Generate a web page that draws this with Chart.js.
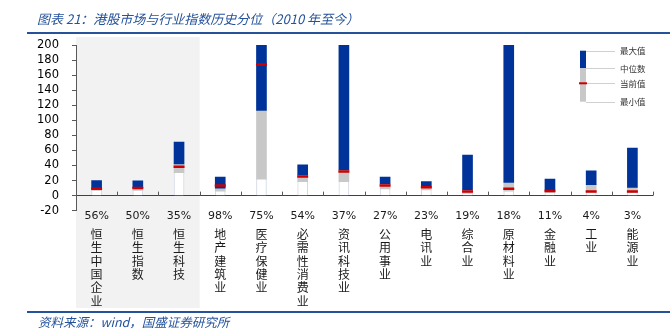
<!DOCTYPE html>
<html>
<head>
<meta charset="utf-8">
<script src="https://cdn.jsdelivr.net/npm/chart.js@4.4.1/dist/chart.umd.min.js"></script>
<style>
  html, body { margin:0; padding:0; background:#fff; }
  #wrap { position:relative; width:670px; height:333px; overflow:hidden; }
  #c { position:absolute; left:0; top:0; }
  .title { position:absolute; left:37px; top:9px; font: italic 13px "Noto Sans CJK SC", "DejaVu Sans", sans-serif; color:#24529b; white-space:nowrap; }
  .src { position:absolute; left:38px; top:312px; font: italic 12.5px "Noto Sans CJK SC", "DejaVu Sans", sans-serif; color:#24529b; white-space:nowrap; }
  .line1 { position:absolute; left:27px; top:32px; width:643px; height:2px; background:#24529b; }
  .line2 { position:absolute; left:27px; top:311px; width:643px; height:1.5px; background:#24529b; }
</style>
</head>
<body>
<div id="wrap">
  <canvas id="c" width="670" height="333"></canvas>
  <div class="title">图表 21：港股市场与行业指数历史分位（2010 年至今）</div>
  <div class="line1"></div>
  <div class="line2"></div>
  <div class="src">资料来源：wind，国盛证券研究所</div>
</div>
<script>
// ---- data ----
const categories = ['恒生中国企业','恒生指数','恒生科技','地产建筑业','医疗保健业','必需性消费业','资讯科技业','公用事业','电讯业','综合业','原材料业','金融业','工业','能源业'];
const percentiles = ['56%','50%','35%','98%','75%','54%','37%','27%','23%','19%','18%','11%','4%','3%'];
const maxValues     = [20, 19.5, 71, 24.5, 200, 41, 200, 24.5, 18.5, 54, 200, 22, 33, 63];
const medianValues  = [10, 10.5, 42, 10, 113, 27.5, 34, 15.5, 12.5, 7.5, 17.5, 7.5, 14.5, 11];
const currentValues = [9, 10, 38.5, 13.3, 174, 25.5, 32, 13.5, 11, 5.5, 9, 6, 5.5, 5.5];
const minValues     = [7, 7, 30.5, 6, 22, 18.5, 18.5, 9, 7.5, 3, 6, 4, 4.5, 4];
const yMin = -20, yMax = 200, yStep = 20;
const legendLabels = ['最大值','中位数','当前值','最小值'];
const highlightCount = 3;

const BLUE = '#003399', GRAY = '#c8c8c8', RED = '#cc0000';

const decorPlugin = {
  id: 'decor',
  beforeDraw(chart) {
    const ctx = chart.ctx, xs = chart.scales.x, ca = chart.chartArea;
    const half = (xs.getPixelForValue(1) - xs.getPixelForValue(0)) / 2;
    const right = xs.getPixelForValue(highlightCount - 1) + half;
    ctx.save();
    ctx.fillStyle = '#f2f2f2';
    ctx.fillRect(ca.left, 37, right - ca.left, 271);
    ctx.restore();
  },
  afterDraw(chart) {
    const ctx = chart.ctx, xs = chart.scales.x, ys = chart.scales.y, ca = chart.chartArea;
    ctx.save();
    // small tick marks on zero line between categories
    const half = (xs.getPixelForValue(1) - xs.getPixelForValue(0)) / 2;
    const y0 = ys.getPixelForValue(0);
    ctx.strokeStyle = '#595959'; ctx.lineWidth = 1;
    for (let i = 0; i < categories.length; i++) {
      const x = Math.round(xs.getPixelForValue(i) + half) + 0.5;
      ctx.beginPath(); ctx.moveTo(x, y0); ctx.lineTo(x, y0 - 4); ctx.stroke();
    }
    // vertical Chinese category labels
    ctx.fillStyle = '#1a1a1a';
    ctx.font = '12px "Noto Sans CJK SC", sans-serif';
    ctx.textAlign = 'center'; ctx.textBaseline = 'middle';
    categories.forEach((name, i) => {
      const x = xs.getPixelForValue(i);
      [...name].forEach((ch, k) => ctx.fillText(ch, x, 234.5 + k * 13.3));
    });
    // legend
    const lx = 580, lw = 6;
    const ly = [50.7, 68.3, 83.3, 101.7];
    ctx.fillStyle = BLUE; ctx.fillRect(lx, ly[0], lw, ly[1] - ly[0]);
    ctx.fillStyle = GRAY; ctx.fillRect(lx, ly[1], lw, ly[3] - ly[1]);
    ctx.strokeStyle = '#d0d0d0'; ctx.lineWidth = 1;
    ly.forEach(y => { ctx.beginPath(); ctx.moveTo(lx + lw, Math.round(y) + 0.5); ctx.lineTo(615, Math.round(y) + 0.5); ctx.stroke(); });
    ctx.strokeStyle = RED; ctx.lineWidth = 2;
    ctx.beginPath(); ctx.moveTo(lx - 1, ly[2]); ctx.lineTo(lx + lw + 1, ly[2]); ctx.stroke();
    ctx.fillStyle = '#333';
    ctx.font = '8.5px "Noto Sans CJK SC", sans-serif';
    ctx.textAlign = 'left'; ctx.textBaseline = 'middle';
    legendLabels.forEach((t, i) => ctx.fillText(t, 620, ly[i]));
    ctx.restore();
  }
};

new Chart(document.getElementById('c'), {
  type: 'bar',
  data: {
    labels: percentiles,
    datasets: [
      { label: '最小值', data: minValues.map(v => [0, v]), backgroundColor: '#ffffff',
        borderColor: '#d3d9e8', borderWidth: {left:1, right:1, top:0, bottom:0}, borderSkipped: false,
        barThickness: 10, grouped: false, order: 3 },
      { label: '中位数', data: minValues.map((v, i) => [v, medianValues[i]]), backgroundColor: GRAY,
        barThickness: 10, grouped: false, order: 2 },
      { label: '最大值', data: medianValues.map((v, i) => [v, maxValues[i]]), backgroundColor: BLUE,
        barThickness: 10, grouped: false, order: 1 },
      { type: 'line', label: '当前值', data: currentValues, showLine: false,
        pointStyle: 'line', pointRadius: 5.5, pointHoverRadius: 5.5, pointBorderWidth: 2.5,
        borderColor: RED, pointBorderColor: RED, order: 0 }
    ]
  },
  options: {
    responsive: false, animation: false,
    layout: { padding: { top: 45, right: 17, left: 0, bottom: 0 } },
    plugins: { legend: { display: false }, tooltip: { enabled: false } },
    scales: {
      x: {
        offset: true,
        grid: { display: false, drawTicks: false },
        border: { display: false },
        ticks: { color: '#1a1a1a', font: { family: 'DejaVu Sans', size: 11 }, padding: -1, maxRotation: 0, autoSkip: false },
        afterFit: s => { s.height = 333 - 210.7; }
      },
      y: {
        min: yMin, max: yMax,
        grid: { color: c => (c.tick && c.tick.value === 0) ? '#404040' : 'rgba(0,0,0,0)', tickColor: '#595959', tickLength: 4, drawTicks: true },
        border: { display: true, color: '#595959' },
        ticks: { stepSize: yStep, autoSkip: false, color: '#000', font: { family: 'DejaVu Sans', size: 11.5 }, padding: 13 },
        afterFit: s => { s.width = 76; }
      }
    }
  },
  plugins: [decorPlugin]
});
</script>
</body>
</html>
